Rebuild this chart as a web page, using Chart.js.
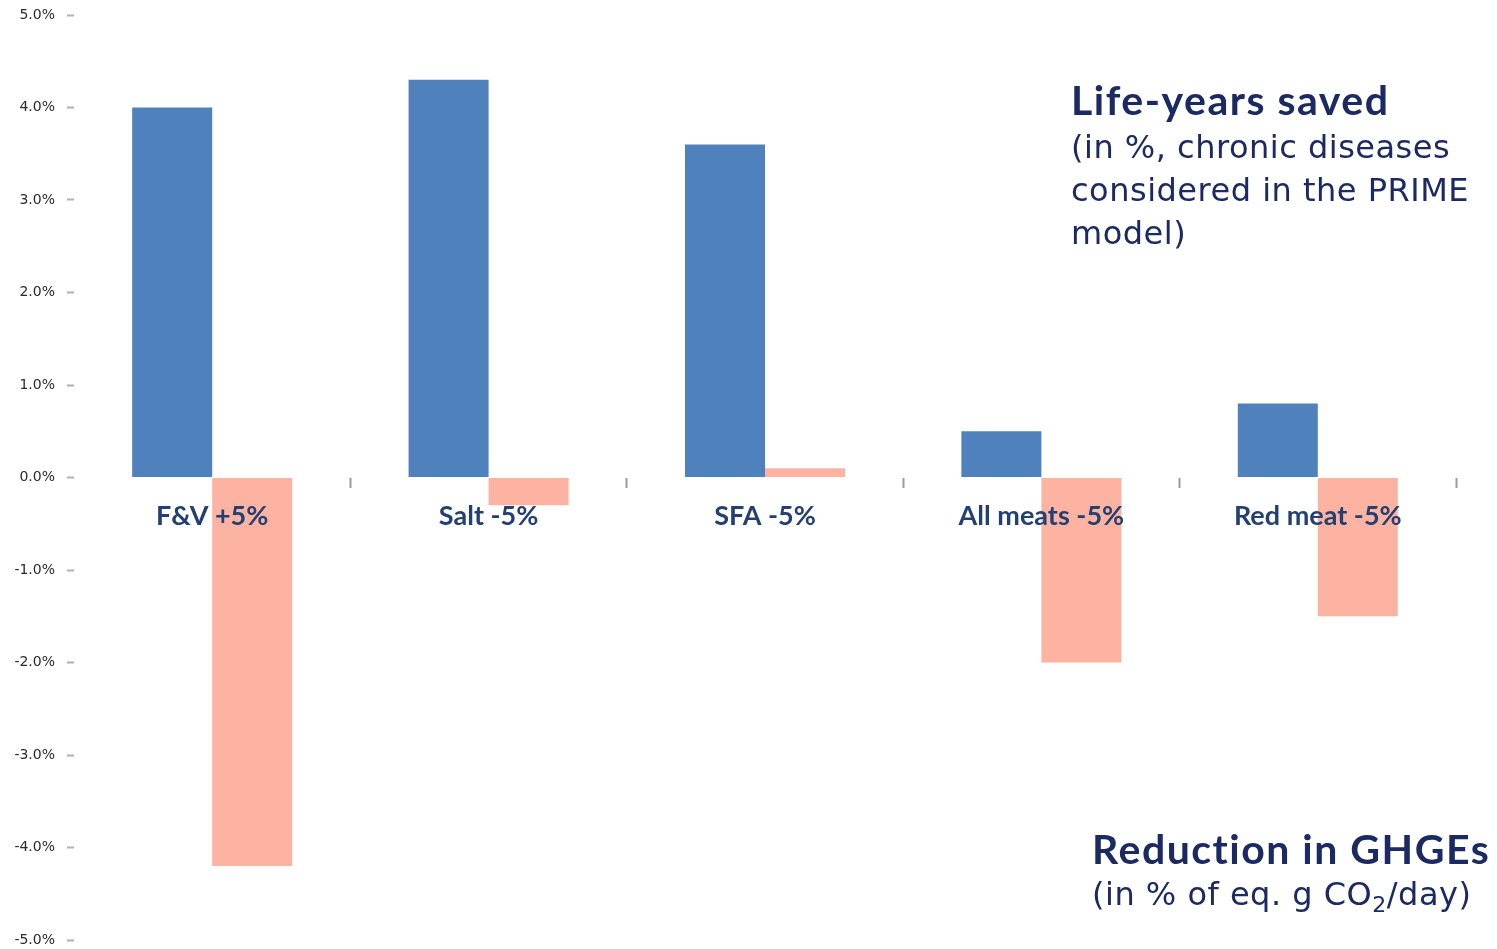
<!DOCTYPE html>
<html>
<head>
<meta charset="utf-8">
<title>Life-years saved vs. GHGE reduction</title>
<script src="https://cdn.jsdelivr.net/npm/chart.js@4.4.0/dist/chart.umd.min.js"></script>
<style>
  html, body { margin: 0; padding: 0; background: #fff; }
  #wrap { position: relative; width: 1497px; height: 949px; }
  .note { position: absolute; color: #1b2a63; white-space: nowrap; }
  .note .head { font-family: Lato, "Noto Sans", sans-serif; font-weight: bold; font-size: 41px; line-height: 48px; letter-spacing: 1.5px; }
  .note .sub { font-family: "DejaVu Sans", sans-serif; font-size: 32px; line-height: 43px; letter-spacing: 0.5px; margin-top: 2px; }
  .note sub { font-size: 22px; line-height: 0; vertical-align: -7px; }
</style>
</head>
<body>
<div id="wrap">
  <canvas id="chart" width="1497" height="949"></canvas>
  <div class="note" style="left:1071px; top:76px;">
    <div class="head">Life-years saved</div>
    <div class="sub">(in %, chronic diseases<br>considered in the PRIME<br>model)</div>
  </div>
  <div class="note" style="left:1092px; top:825px;">
    <div class="head">Reduction in GHGEs</div>
    <div class="sub" style="margin-top:0">(in % of eq. g CO<sub>2</sub>/day)</div>
  </div>
</div>
<script>
// scenarios and their effects, in %
const scenarios = ["F&V +5%", "Salt -5%", "SFA -5%", "All meats -5%", "Red meat -5%"];
const lifeYearsSaved = [4.0, 4.3, 3.6, 0.5, 0.8];
const ghgeChange = [-4.2, -0.3, 0.1, -2.0, -1.5];
const yTicks = [-5, -4, -3, -2, -1, 0, 1, 2, 3, 4, 5];

const blue = "#4f81bd";
const salmon = "#fcb3a2";

// keep the plot box fixed: no extra room reserved for label overhang
function noOverhang(scale) {
  scale.paddingTop = 0;
  scale.paddingBottom = 0;
  scale.paddingLeft = 0;
  scale.paddingRight = 0;
}

new Chart(document.getElementById("chart"), {
  type: "bar",
  data: {
    labels: scenarios,
    datasets: [
      { label: "Life-years saved", data: lifeYearsSaved, backgroundColor: blue },
      { label: "Reduction in GHGEs", data: ghgeChange, backgroundColor: salmon }
    ]
  },
  options: {
    responsive: false,
    animation: false,
    devicePixelRatio: 1,
    layout: { padding: { left: 0, right: 41, top: 15, bottom: 9 } },
    plugins: { legend: { display: false }, tooltip: { enabled: false } },
    datasets: { bar: { barPercentage: 1, categoryPercentage: 0.579 } },
    scales: {
      x: {
        position: { y: 0 },
        afterFit: noOverhang,
        border: { display: false },
        grid: {
          offset: true,
          drawOnChartArea: false,
          tickLength: 10,
          // no mark at the left edge, the y axis sits there
          tickColor: (c) => (c.index === 0 ? "rgba(0,0,0,0)" : "#9a9a9a"),
          tickWidth: 2
        },
        ticks: {
          z: 1,
          padding: 13,
          color: "#243f72",
          font: { family: "Lato, 'Noto Sans', sans-serif", size: 27, weight: "bold" }
        }
      },
      y: {
        min: -5,
        max: 5,
        afterFit: (scale) => { scale.width = 74; noOverhang(scale); },
        afterBuildTicks: (scale) => { scale.ticks = yTicks.map(v => ({ value: v })); },
        border: { display: false },
        grid: {
          drawOnChartArea: false,
          tickLength: 7,
          tickColor: "#b0b0b0",
          tickWidth: 2
        },
        ticks: {
          padding: 12,
          color: "#2a2a2a",
          font: { family: "'DejaVu Sans', sans-serif", size: 14 },
          callback: (v) => v.toFixed(1) + "%"
        }
      }
    }
  }
});
</script>
</body>
</html>
